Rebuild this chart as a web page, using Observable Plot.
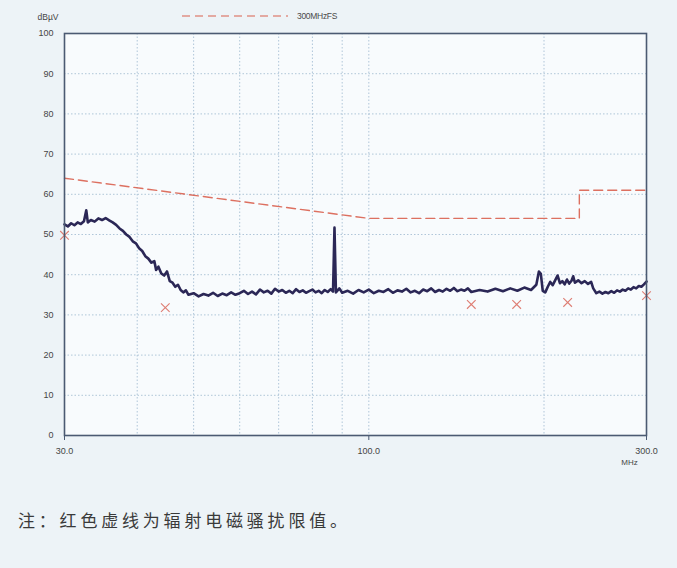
<!DOCTYPE html>
<html>
<head>
<meta charset="utf-8">
<script src="https://cdn.jsdelivr.net/npm/d3@7"></script>
<script src="https://cdn.jsdelivr.net/npm/@observablehq/plot@0.6"></script>
<style>
  html, body { margin: 0; padding: 0; background: #edf3f7; }
  #wrap { position: relative; width: 677px; height: 568px; overflow: hidden; font-family: "Liberation Sans", Arial, sans-serif; }
  #legend { position: absolute; left: 182px; top: 11px; display: flex; align-items: center; }
  #legend span { font-size: 8.5px; color: #4a4a4a; margin-left: 9px; letter-spacing: -0.3px; }
  #caption { position: absolute; left: 18px; top: 507px; font-family: "Noto Sans CJK SC", sans-serif; font-size: 17px; letter-spacing: 3.8px; color: #3a3a3a; }
</style>
</head>
<body>
<div id="wrap">
  <div id="chart"></div>
  <div id="legend"></div>
  <div id="caption"></div>
</div>
<script>
// ---- data ----
const legendLabel = "300MHzFS";
const yUnit = "dBµV";
const xUnit = "MHz";
const captionText = "注：红色虚线为辐射电磁骚扰限值。";

const xTicks = [30, 100, 300];
const xGrid = [40, 50, 60, 70, 80, 90, 100, 200];
const yTicks = [0, 10, 20, 30, 40, 50, 60, 70, 80, 90, 100];

// limit line (red dashed)
const limitFreq = [30, 100, 230, 230, 300];
const limitLevel = [64, 54, 54, 61, 61];

// measured trace
const traceFreq = [
  30.0, 30.4, 30.8, 31.2, 31.6, 32.0, 32.4, 32.7, 32.9, 33.3,
  33.8, 34.3, 34.8, 35.3, 35.8, 36.3, 36.8, 37.3, 37.8, 38.3,
  38.8, 39.3, 39.8, 40.3, 40.8, 41.3, 41.8, 42.3, 42.8, 43.1,
  43.5, 44.0, 44.5, 45.0, 45.5, 46.0, 46.5, 47.0, 47.5, 48.0,
  48.5, 49.0, 50, 51, 52, 53, 54, 55, 56, 57,
  58, 59, 60, 61, 62, 63, 64, 65, 66, 67,
  68, 69, 70, 71, 72, 73, 74, 75, 76, 77,
  78, 79, 80, 81, 82, 83, 84, 85, 86, 86.8,
  87.3, 87.8, 89, 90, 92, 94, 96, 98, 100, 102,
  104, 106, 108, 110, 112, 114, 116, 118, 120, 122,
  124, 126, 128, 130, 132, 134, 136, 138, 140, 142,
  144, 146, 148, 150, 155, 160, 165, 170, 175, 180,
  185, 190, 194, 196, 197.5, 199, 201, 203, 205, 207,
  209, 211, 213, 215, 217, 219, 221, 223, 224.5, 226,
  229, 232, 235, 238, 241, 243, 246, 249, 252, 255,
  258, 261, 264, 267, 270, 273, 276, 279, 282, 285,
  288, 291, 294, 297, 300
];
const traceLevel = [
  52.5, 52.0, 52.8, 52.3, 53.0, 52.6, 53.3, 56.0, 53.0, 53.6,
  53.2, 54.0, 53.6, 54.1, 53.5, 53.0, 52.4, 51.5, 50.9, 50.0,
  49.4, 48.3, 47.8, 46.6, 45.9, 44.6, 44.0, 43.0, 43.4, 41.2,
  42.0, 40.3, 39.8, 40.8, 38.4, 38.0, 37.0, 37.5, 36.2, 35.6,
  36.1, 35.0, 35.4, 34.6, 35.2, 34.8, 35.5, 34.7, 35.3, 34.9,
  35.6, 35.0, 35.4, 36.0, 35.2, 35.8, 35.1, 36.3, 35.6, 36.0,
  35.3, 36.5, 35.8, 36.2, 35.5, 36.0, 35.4, 36.4, 35.7, 36.1,
  35.5, 35.9, 36.3, 35.6, 36.0, 35.4, 36.2, 35.7, 36.4, 35.8,
  51.7, 35.6, 36.6, 35.5, 36.0, 35.3, 36.2, 35.6, 36.3, 35.4,
  36.0, 35.7, 36.4, 35.5, 36.1, 35.8, 36.5, 35.6, 36.0, 35.4,
  36.3, 35.9, 36.6, 35.7, 36.2, 35.8, 36.5, 36.0, 36.7, 35.9,
  36.3, 36.0, 36.6, 35.7, 36.2, 35.8, 36.5, 35.9, 36.6, 36.0,
  36.8, 36.2, 37.5, 40.8, 40.2, 36.0, 35.6, 37.0, 38.2, 37.4,
  38.6, 39.8, 37.9, 38.4, 37.6, 38.8, 37.8, 38.5, 39.6, 38.0,
  38.6, 37.9, 38.4, 37.7, 38.2, 36.6, 35.4, 35.8, 35.3, 35.7,
  35.4, 35.9, 35.5, 36.1, 35.8, 36.3, 36.0, 36.6, 36.3, 36.9,
  36.6, 37.2, 37.0, 37.6, 38.3
];

// quasi-peak markers (red x)
const markFreq = [30, 44.7, 150, 179.5, 219.6, 300];
const markLevel = [49.8, 31.8, 32.6, 32.6, 33.1, 34.8];

// ---- build ----
const trace = traceFreq.map((f, i) => ({f, v: traceLevel[i]}));
const limit = limitFreq.map((f, i) => ({f, v: limitLevel[i]}));
const marks = markFreq.map((f, i) => ({f, v: markLevel[i]}));

const textColor = "#454545";
const chart = Plot.plot({
  width: 677,
  height: 490,
  marginLeft: 64,
  marginRight: 31,
  marginTop: 33,
  marginBottom: 55,
  style: {background: "transparent", fontFamily: "Liberation Sans, Arial, sans-serif", fontSize: "9px", color: textColor},
  x: {type: "log", domain: [30, 300]},
  y: {domain: [0, 100]},
  marks: [
    Plot.frame({fill: "#f8fbfd", stroke: "none"}),
    Plot.gridX(xGrid, {stroke: "#9db9cf", strokeOpacity: 0.8, strokeDasharray: "1.5,2"}),
    Plot.gridY(yTicks.slice(1, -1), {stroke: "#9db9cf", strokeOpacity: 0.8, strokeDasharray: "1.5,2"}),
    Plot.axisX(xTicks, {tickFormat: d => d.toFixed(1), tickSize: 5, tickPadding: 7, stroke: "#4b5a72", label: null, fill: textColor}),
    Plot.axisY(yTicks, {tickSize: 0, tickPadding: 11, label: null, fill: textColor}),
    Plot.text([yUnit], {frameAnchor: "top-left", dx: -27, dy: -20, textAnchor: "start", fill: textColor, fontSize: 8.5}),
    Plot.text([xUnit], {frameAnchor: "bottom-right", dx: -17, dy: 29, textAnchor: "middle", fill: textColor, fontSize: 8}),
    Plot.line(limit, {x: "f", y: "v", stroke: "#d9604f", strokeWidth: 1.4, strokeDasharray: "9,5", strokeOpacity: 0.9}),
    Plot.line(trace, {x: "f", y: "v", stroke: "#2b2756", strokeWidth: 2.6, strokeLinejoin: "round"}),
    Plot.dot(marks, {x: "f", y: "v", symbol: "times", r: 4, stroke: "#de7d73", strokeWidth: 1.1}),
    Plot.frame({stroke: "#4b5a72", strokeWidth: 1.6})
  ]
});
document.getElementById("chart").append(chart);

// legend (HTML, outside the plot)
const lg = document.getElementById("legend");
lg.innerHTML = `<svg width="106" height="6"><line x1="0" y1="3" x2="106" y2="3" stroke="#d9604f" stroke-width="1.2" stroke-dasharray="8,5"/></svg><span>${legendLabel}</span>`;
document.getElementById("caption").textContent = captionText;
</script>
</body>
</html>
